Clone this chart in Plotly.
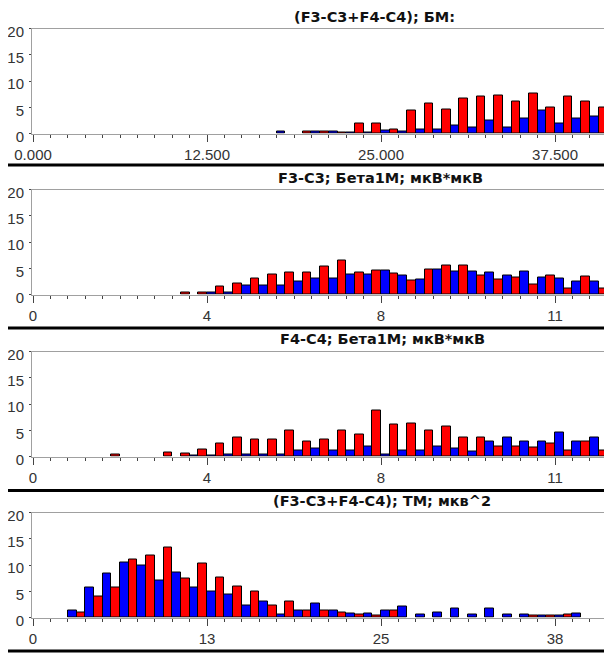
import plotly.graph_objects as go

# The page body has an 8px margin, so the figure is placed at (8, 8)
OFF = 8
W, H = 612 - OFF, 653 - OFF

# ---------------- data ----------------
titles = [
    "(F3-C3+F4-C4); БМ:",
    "F3-C3; Бета1М; мкВ*мкВ",
    "F4-C4; Бета1М; мкВ*мкВ",
    "(F3-C3+F4-C4); ТМ; мкв^2",
]
bin_steps = [1.25, 0.375, 0.375, 1.25]
tick_labels = [
    ["0.000", "12.500", "25.000", "37.500"],
    ["0", "4", "8", "11"],
    ["0", "4", "8", "11"],
    ["0", "13", "25", "38"],
]
y_ticks = [0, 5, 10, 15, 20]

bm_blue = [0, 0, 0, 0, 0, 0, 0, 0, 0, 0, 0, 0, 0, 0,
           0.3, 0, 0.4, 0.4, 0.2, 0.2, 0.6, 0.3, 0.8, 0.8, 1.5, 1.1, 2.5, 1.1,
           2.9, 4.4, 2.0, 2.9, 3.3, 2.5]
bm_red = [0, 0, 0, 0, 0, 0, 0, 0, 0, 0, 0, 0, 0, 0,
          0, 0.3, 0.4, 0.2, 2.0, 2.0, 0.8, 4.4, 5.8, 4.6, 6.7, 7.0, 7.3, 6.1,
          7.6, 5.0, 7.0, 6.1, 5.0]

f3_blue = [0, 0, 0, 0, 0, 0, 0, 0,
           0, 0, 0.4, 0.4, 1.8, 1.8, 1.8, 2.5, 3.0, 3.0, 3.8, 3.8, 4.6, 3.6,
           2.9, 4.8, 4.3, 4.4, 4.1, 3.6, 4.4, 3.3, 3.1, 2.5, 2.5]
f3_red = [0, 0, 0, 0, 0, 0, 0, 0,
          0.45, 0.3, 1.6, 2.1, 3.0, 3.8, 4.1, 4.1, 5.3, 6.5, 4.1, 4.6, 4.0, 2.7,
          4.8, 5.6, 5.6, 3.6, 2.9, 3.2, 2.0, 3.6, 1.1, 3.4, 1.2]

f4_blue = [0, 0, 0, 0, 0, 0, 0, 0, 0,
           0.2, 0.2, 0.4, 0.4, 0.4, 0.4, 1.1, 1.6, 1.1, 1.1, 1.9, 0.4, 1.1,
           1.1, 1.9, 1.6, 0.95, 2.8, 3.7, 2.9, 2.8, 4.5, 2.8, 3.7, 3.5]
f4_red = [0, 0, 0, 0, 0.3, 0, 0, 0.8, 0.5, 1.3, 2.5, 3.7, 3.2, 3.2, 4.9, 2.9,
          3.2, 5.0, 4.1, 8.8, 6.1, 6.2, 4.9, 5.8, 3.7, 3.7, 2.0, 2.0, 1.8, 2.4,
          1.1, 2.8, 1.1]

tm_blue = [0, 0, 1.3, 5.7, 8.3, 10.5, 10.0, 7.0, 8.6, 5.7, 5.0, 4.4, 2.2, 3.1,
           0.5, 1.3, 2.6, 1.3, 0.8, 0.8, 1.3, 2.1, 0.5, 1.0, 1.8, 0.5, 1.7, 0.6,
           0.6, 0.3, 0.3, 0.8, 0, 0.3]
tm_red = [0, 0, 0.95, 4.0, 5.7, 11.0, 11.9, 13.4, 7.4, 10.2, 7.7, 6.0, 5.0, 2.2,
          3.1, 1.3, 1.3, 0.95, 0.5, 0.3, 1.3, 0, 0, 0, 0, 0, 0, 0, 0.3, 0.3, 0.5,
          0, 0]

series = [(bm_blue, bm_red), (f3_blue, f3_red), (f4_blue, f4_red), (tm_blue, tm_red)]

# ---------------- layout geometry (window pixels) ----------------
plot_tops = [28.5, 189.5, 351.5, 512.5]
plot_h = 105
plot_left = 32
title_y = [17, 178, 339, 501]
title_x = [374, 380, 382, 382]
sep_y = [165, 328, 490.5, 651]


def px(x):
    return (x - OFF) / W


def py(y):
    return 1 - (y - OFF) / H


tick_font = dict(family="Liberation Sans, Arial, sans-serif", size=15, color="#333333")

fig = go.Figure()
layout = dict(
    width=W, height=H,
    margin=dict(l=0, r=0, t=0, b=0, autoexpand=False),
    paper_bgcolor="white", plot_bgcolor="white",
    barmode="group", bargap=0, bargroupgap=0,
    showlegend=False,
)

for i, (blue, red) in enumerate(series):
    sfx = "" if i == 0 else str(i + 1)
    step = bin_steps[i]
    xb = [(k + 0.5) * step for k in range(len(blue))]
    xr = [(k + 0.5) * step for k in range(len(red))]
    fig.add_bar(x=xb, y=[v if v > 0 else None for v in blue],
                xaxis="x" + sfx, yaxis="y" + sfx,
                marker=dict(color="#0000FF", line=dict(color="#000000", width=1)),
                hoverinfo="skip")
    fig.add_bar(x=xr, y=[v if v > 0 else None for v in red],
                xaxis="x" + sfx, yaxis="y" + sfx,
                marker=dict(color="#FF0000", line=dict(color="#000000", width=1)),
                hoverinfo="skip")

    top = plot_tops[i]
    bot = top + plot_h
    px_per_bin = 17.4
    n_bins = (612 - plot_left) / px_per_bin
    layout["xaxis" + sfx] = dict(
        domain=[px(plot_left), 1],
        range=[-0.06 * step, (n_bins - 0.06) * step],
        anchor="y" + sfx,
        tickvals=[10 * step * j for j in range(len(tick_labels[i]))],
        ticktext=tick_labels[i],
        ticks="outside", ticklen=7, tickwidth=1, tickcolor="#444444",
        minor=dict(dtick=step, tick0=0, ticks="outside", ticklen=3,
                   tickcolor="#444444", showgrid=False),
        showline=True, linecolor="#a0a0a0", linewidth=1, mirror=True,
        showgrid=False, zeroline=False, automargin=False,
        tickfont=tick_font, ticklabelstandoff=0,
        fixedrange=True,
    )
    layout["yaxis" + sfx] = dict(
        domain=[py(bot), py(top)],
        range=[0, 20],
        anchor="x" + sfx,
        tickvals=y_ticks,
        ticks="outside", ticklen=2, tickcolor="#444444",
        showline=True, linecolor="#a0a0a0", linewidth=1,
        showgrid=False, zeroline=False, automargin=False,
        tickfont=tick_font, ticklabelshift=3, ticklabelstandoff=2,
        fixedrange=True,
    )

shapes = []
for y in sep_y:
    shapes.append(dict(type="line", xref="paper", yref="paper",
                       x0=0, x1=1, y0=py(y), y1=py(y),
                       line=dict(color="#000000", width=3)))
layout["shapes"] = shapes

annotations = []
for i, t in enumerate(titles):
    annotations.append(dict(text=t, xref="paper", yref="paper",
                            x=px(title_x[i]), y=py(title_y[i]),
                            xanchor="center", yanchor="middle", showarrow=False,
                            font=dict(family="DejaVu Sans, Verdana, sans-serif",
                                      size=14.5, color="#111111", weight="bold")))
layout["annotations"] = annotations

fig.update_layout(**layout)
fig.write_html("out.html")
